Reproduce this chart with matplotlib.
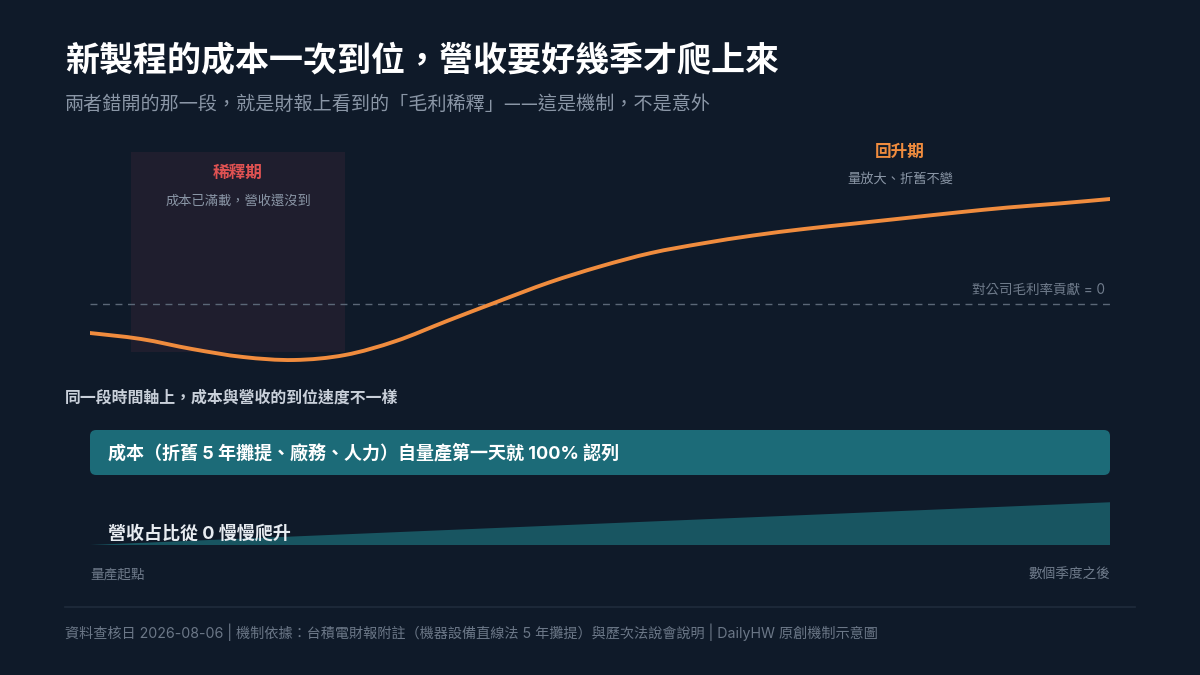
import numpy as np
import matplotlib
matplotlib.use("Agg")
import matplotlib.pyplot as plt
from matplotlib.patches import Rectangle, FancyBboxPatch, PathPatch
from matplotlib.path import Path

plt.rcParams['font.family'] = ['Noto Sans CJK TC', 'DejaVu Sans']
MIXED = ['Inter', 'Noto Sans CJK TC', 'DejaVu Sans']

# ---------------- data ----------------
# timeline (arbitrary units: 0 = mass-production start, 10 = several quarters later)
T = [0, 0.5, 1, 1.5, 2, 2.5, 3, 3.5, 4, 4.5, 5, 5.5, 6, 6.5, 7, 7.5, 8, 8.5, 9, 9.5, 10]
# contribution to company gross margin (relative, 0 = neutral)
MARGIN = [-2.9, -3.5, -4.5, -5.3, -5.6, -5.1, -3.7, -1.7, 0.25, 2.15, 3.75,
          5.1, 6.05, 6.85, 7.5, 8.05, 8.6, 9.15, 9.65, 10.05, 10.5]
DILUTION_START, DILUTION_END = 0.4, 2.5
DILUTION_TOP, DILUTION_BOTTOM = 15.2, -4.8

# lower panel: cost recognised vs revenue share
COST_T = [0, 10]
COST_SHARE = [1.0, 1.0]
REVENUE_T = [0, 10]
REVENUE_SHARE = [0.0, 0.95]

TITLE = "新製程的成本一次到位，營收要好幾季才爬上來"
SUBTITLE = "兩者錯開的那一段，就是財報上看到的「毛利稀釋」——這是機制，不是意外"
SECTION = "同一段時間軸上，成本與營收的到位速度不一樣"
COST_LABEL = "成本（折舊 5 年攤提、廠務、人力）自量產第一天就 100% 認列"
REV_LABEL = "營收占比從 0 慢慢爬升"
X_START_LABEL = "量產起點"
X_END_LABEL = "數個季度之後"
ZERO_LABEL = "對公司毛利率貢獻 = 0"
DIL_TITLE, DIL_SUB = "稀釋期", "成本已滿載，營收還沒到"
REC_TITLE, REC_SUB = "回升期", "量放大、折舊不變"
FOOTER = "資料查核日 2026-08-06 | 機制依據：台積電財報附註（機器設備直線法 5 年攤提）與歷次法說會說明 | DailyHW 原創機制示意圖"

# ---------------- style ----------------
BG = "#0f1a29"
ORANGE = "#f08c3e"
RED = "#e05252"
SHADE = "#1f1e2e"
TEAL = "#1c6b78"
TEAL_DARK = "#185561"
GRID = "#5b6777"
TXT_MUTED = "#8a96a6"
TXT_LIGHT = "#c9d0da"

W, H = 1200, 675
fig = plt.figure(figsize=(12, 6.75), dpi=100, facecolor=BG)


def fx(x):
    return x / W


def fy(y):
    return 1 - y / H


def ftext(x, y, s, **kw):
    fig.text(fx(x), fy(y), s, **kw)


def smooth_path(xs, ys):
    """Catmull-Rom curve through the data points, drawn as cubic Bezier segments."""
    p = np.column_stack([xs, ys]).astype(float)
    ext = np.vstack([p[0], p, p[-1]])
    verts = [p[0]]
    codes = [Path.MOVETO]
    for i in range(1, len(ext) - 2):
        p0, p1, p2, p3 = ext[i - 1], ext[i], ext[i + 1], ext[i + 2]
        c1 = p1 + (p2 - p0) / 6
        c2 = p2 - (p3 - p1) / 6
        verts += [c1, c2, p2]
        codes += [Path.CURVE4] * 3
    return Path(verts, codes)


# header
ftext(65, 61, TITLE, fontsize=24.5, fontweight="bold", color="white", va="center", ha="left")
ftext(65, 104, SUBTITLE, fontsize=13.75, color=TXT_MUTED, va="center", ha="left")

# ---------------- upper chart ----------------
ax = fig.add_axes([fx(90), fy(380), fx(1110) - fx(90), fy(140) - fy(380)])
ax.set_facecolor("none")
ax.set_xlim(0, 10)
ax.set_ylim(-7.6, 16.4)
ax.axis("off")

ax.add_patch(Rectangle((DILUTION_START, DILUTION_BOTTOM), DILUTION_END - DILUTION_START,
                       DILUTION_TOP - DILUTION_BOTTOM, facecolor=SHADE, edgecolor="none", zorder=0))
ax.axhline(0, color=GRID, lw=1, ls=(0, (5, 4)), zorder=1)
ax.add_patch(PathPatch(smooth_path(T, MARGIN), facecolor="none", edgecolor=ORANGE, lw=2.8,
                       capstyle="round", joinstyle="round", zorder=3))

mid = (DILUTION_START + DILUTION_END) / 2
ax.text(mid, 13.1, DIL_TITLE, color=RED, fontsize=12, fontweight="bold", ha="center", va="center")
ax.text(mid, 10.3, DIL_SUB, color=TXT_MUTED, fontsize=9.5, ha="center", va="center")
ax.text(7.94, 15.2, REC_TITLE, color=ORANGE, fontsize=12, fontweight="bold", ha="center", va="center")
ax.text(7.94, 12.5, REC_SUB, color=TXT_MUTED, fontsize=9.5, ha="center", va="center")
ax.text(9.95, 1.4, ZERO_LABEL, color="#6f7b8b", fontsize=9.75, ha="right", va="center", family=MIXED)

# ---------------- lower panel ----------------
ftext(65, 398, SECTION, fontsize=11.45, fontweight="bold", color=TXT_LIGHT, va="center", ha="left")

ax2 = fig.add_axes([fx(90), fy(550), fx(1110) - fx(90), fy(425) - fy(550)])
ax2.set_facecolor("none")
ax2.set_xlim(0, 10)
ax2.set_ylim(0, 1.25)
ax2.axis("off")

LANE_H = 0.45
cost_y0 = 0.75
cost_w = COST_T[-1] - COST_T[0]
cost_h = LANE_H * COST_SHARE[0]
ax2.add_patch(FancyBboxPatch((COST_T[0], cost_y0), cost_w, cost_h,
                             boxstyle="round,pad=0,rounding_size=0.06",
                             mutation_aspect=1.0, facecolor=TEAL, edgecolor="none"))
ax2.text(0.176, cost_y0 + cost_h / 2, COST_LABEL, color="white", fontsize=13,
         fontweight="bold", ha="left", va="center", family=MIXED)

base = 0.05
rev_top = [base + LANE_H * s for s in REVENUE_SHARE]
ax2.fill_between(REVENUE_T, base, rev_top, facecolor=TEAL_DARK, edgecolor="none")
ax2.text(0.176, 0.16, REV_LABEL, color="#e8ecf1", fontsize=13, fontweight="bold",
         ha="left", va="center", family=MIXED)

ftext(90, 575, X_START_LABEL, fontsize=9.8, color="#6f7b8b", va="center", ha="left")
ftext(1110, 575, X_END_LABEL, fontsize=9.8, color="#6f7b8b", va="center", ha="right")

# separator and footer
fig.add_artist(plt.Line2D([fx(65), fx(1135)], [fy(607), fy(607)], color="#1f2c3c", lw=1.2))
ftext(65, 632, FOOTER, fontsize=10.2, color="#6b7787", va="center", ha="left", family=MIXED)

fig.savefig("out.png", dpi=100, facecolor=BG)
